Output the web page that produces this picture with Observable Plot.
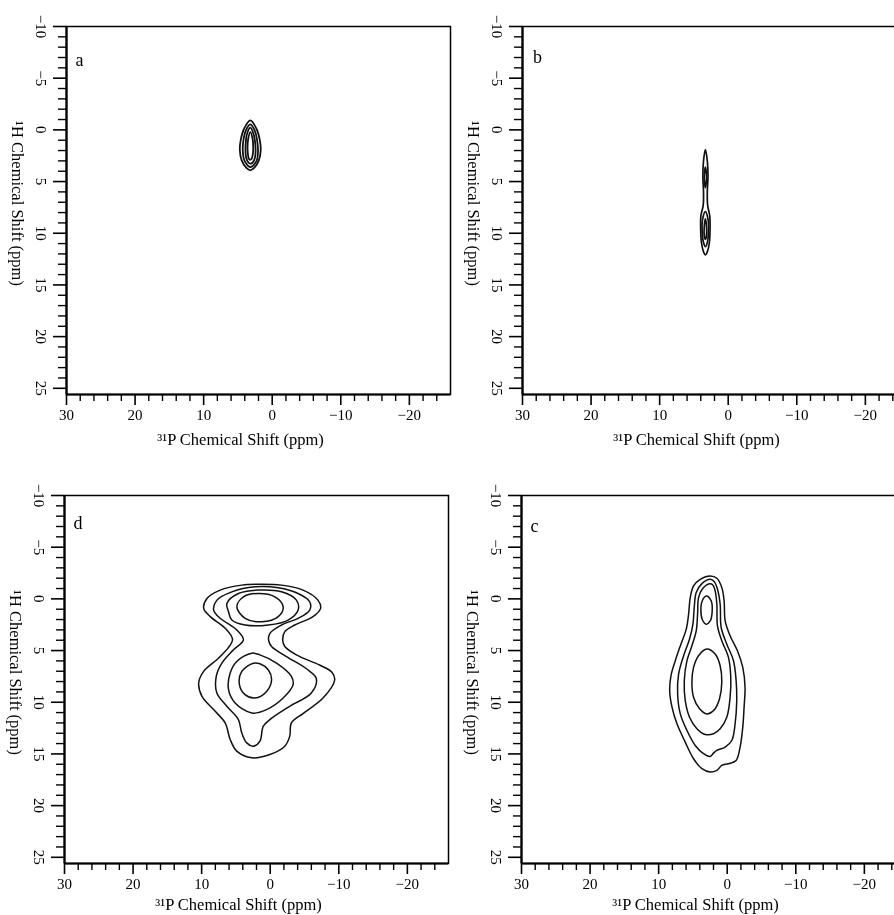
<!DOCTYPE html>
<html>
<head>
<meta charset="utf-8">
<script src="https://cdn.jsdelivr.net/npm/d3@7"></script>
<script src="https://cdn.jsdelivr.net/npm/@observablehq/plot@0.6"></script>
<style>
html, body { margin: 0; padding: 0; background: #fff; overflow: hidden; width: 894px; height: 915px; }
.panel { position: absolute; filter: grayscale(100%); }
</style>
</head>
<body>
<div id="pa" class="panel"></div>
<div id="pb" class="panel"></div>
<div id="pd" class="panel"></div>
<div id="pc" class="panel"></div>
<script>
// ---- axes / ticks ----
const xDomain = [30, -26];
const yDomain = [-10, 25.6];
const xMajorTicks = [30, 20, 10, 0, -10, -20];
const xMinorTicks = [28, 26, 24, 22, 18, 16, 14, 12, 8, 6, 4, 2, -2, -4, -6, -8, -12, -14, -16, -18, -22, -24];
const yMajorTicks = [-10, -5, 0, 5, 10, 15, 20, 25];
const yMinorTicks = [-9, -8, -7, -6, -4, -3, -2, -1, 1, 2, 3, 4, 6, 7, 8, 9, 11, 12, 13, 14, 16, 17, 18, 19, 21, 22, 23, 24];
const xTitle = "³¹P Chemical Shift (ppm)";
const yTitle = "¹H Chemical Shift (ppm)";
const panelLetters = ["a", "b", "d", "c"];

// ---- contour outlines (31P ppm, 1H ppm) ----
// panel a
const a1 = [[3.2,-0.91],[4.1,-0.11],[4.6,1.02],[4.72,1.98],[4.45,2.95],[3.8,3.66],[3.2,3.92],[2.6,3.66],[1.95,2.95],[1.68,1.98],[1.8,1.02],[2.3,-0.11]];
const a2 = [[3.2,-0.53],[3.88,0.12],[4.2,1.02],[4.3,1.98],[4.1,2.89],[3.6,3.43],[3.2,3.59],[2.72,3.43],[2.22,2.89],[2.07,1.98],[2.2,1.02],[2.52,0.12]];
const a3 = [[3.2,-0.21],[3.7,0.44],[3.85,1.18],[3.9,1.98],[3.8,2.69],[3.46,3.18],[3.2,3.27],[2.86,3.18],[2.52,2.69],[2.42,1.98],[2.5,1.18],[2.7,0.44]];
const a4 = [[3.2,0.21],[3.5,0.86],[3.6,1.66],[3.55,2.31],[3.41,2.79],[3.2,2.89],[3.0,2.79],[2.82,2.31],[2.77,1.66],[2.86,0.86]];

// panel b
const b1 = [[3.33,1.9],[3.6,3.0],[3.7,4.5],[3.6,6.0],[3.65,7.3],[3.98,8.3],[4.02,9.6],[3.9,10.9],[3.6,11.8],[3.33,12.1],[3.05,11.8],[2.75,10.9],[2.65,9.6],[2.7,8.3],[3.0,7.3],[3.05,6.0],[2.95,4.5],[3.05,3.0]];
const b2 = [[3.33,3.6],[3.5,4.6],[3.33,5.6],[3.16,4.6]];
const b3 = [[3.33,7.9],[3.75,8.7],[3.8,9.8],[3.6,10.9],[3.33,11.3],[3.05,10.9],[2.88,9.8],[2.93,8.7]];
const b4 = [[3.33,8.6],[3.5,9.4],[3.48,10.3],[3.33,10.6],[3.18,10.3],[3.16,9.4]];

// panel d
const d1 = [[5.5,3.97],[6.56,2.85],[8.74,1.72],[9.7,0.92],[9.22,-0.04],[7.29,-0.85],[4.15,-1.33],[1.25,-1.42],[-1.65,-1.33],[-4.79,-0.85],[-6.96,0.12],[-7.35,0.92],[-6.24,1.72],[-3.58,2.53],[-2.13,3.17],[-1.82,3.97],
            [-2.13,4.61],[-3.82,5.42],[-7.2,6.4],[-9.0,7.1],[-9.4,7.85],[-7.7,9.6],[-4.78,11.1],[-3.09,12.0],[-2.85,13.28],[-2.13,14.25],[0.05,15.05],[2.70,15.37],[4.88,14.73],[5.84,13.6],[6.57,12.0],[8.26,10.71],[9.95,9.43],[10.43,8.14],[9.71,7.02],[7.29,5.58]];
const d2 = [[3.91,3.97],[4.87,3.01],[7.29,1.88],[8.25,1.08],[7.77,0.12],[5.6,-0.68],[2.21,-1.17],[-1.17,-1.07],[-4.07,-0.52],[-5.76,0.28],[-5.76,1.08],[-4.07,1.88],[-1.65,2.53],[0.04,3.33],[0.24,3.97],
            [-0.2,4.61],[-2.37,5.58],[-5.27,6.76],[-6.72,7.7],[-5.99,9.11],[-2.85,10.39],[0.05,11.68],[1.01,12.32],[1.5,13.76],[2.46,14.25],[3.43,13.93],[4.15,12.96],[4.64,11.68],[6.33,10.39],[7.78,9.11],[7.87,7.5],[7.05,6.22],[5.36,4.93]];
const d3u = [[6.08,1.24],[6.32,0.44],[4.63,-0.52],[1.73,-0.85],[-1.65,-0.68],[-3.82,0.12],[-4.07,1.08],[-2.62,2.05],[0.28,2.53],[3.66,2.53],[5.6,2.05]];
const d4u = [[4.87,0.76],[3.91,-0.2],[1.73,-0.52],[-0.68,-0.2],[-1.89,0.76],[-1.17,1.72],[1.25,2.21],[3.66,1.88]];
const d3l = [[2.7,5.25],[4.88,6.06],[5.84,7.18],[6.08,8.79],[5.12,10.07],[2.7,11.04],[0.53,10.71],[-1.89,9.59],[-3.34,8.3],[-3.09,7.5],[-0.92,6.22],[1.5,5.42]];
const d4l = [[2.46,6.22],[4.15,7.02],[4.49,8.3],[3.67,9.27],[2.22,9.59],[0.53,8.95],[-0.2,7.82],[0.29,6.86],[1.5,6.28]];

// panel c
const c1 = [[2.48,-2.21],[3.94,-1.89],[4.91,-1.25],[5.39,-0.12],[5.63,1.48],[5.97,2.93],[6.75,4.38],[7.57,5.98],[8.20,7.43],[8.39,8.88],[8.05,10.48],[7.33,12.09],[6.12,13.86],[4.91,15.47],[3.69,16.43],[2.48,16.75],[1.51,16.59],[0.79,16.11],[-0.18,15.95],[-1.30,15.63],[-1.88,14.34],[-2.27,12.41],[-2.46,10.48],[-2.60,8.55],[-2.27,6.63],[-1.49,5.02],[-0.42,3.57],[0.30,2.13],[0.45,0.20],[0.79,-1.09],[1.51,-1.99]];
const c2 = [[2.48,-1.89],[3.69,-1.47],[4.52,-0.61],[4.81,0.84],[5.00,2.45],[5.49,3.89],[6.36,5.50],[7.09,7.27],[7.23,9.20],[6.84,11.13],[5.87,12.73],[4.66,14.18],[3.45,14.98],[2.48,15.24],[2.00,14.92],[1.51,14.66],[0.30,14.34],[-0.67,13.70],[-1.15,12.09],[-1.39,9.84],[-1.30,7.91],[-0.91,5.98],[0.06,4.38],[0.88,2.77],[1.03,0.52],[1.42,-0.93],[1.90,-1.67]];
const c3 = [[2.58,-1.47],[3.55,-1.02],[4.18,-0.12],[4.32,1.48],[4.52,3.09],[5.15,4.54],[5.87,5.98],[6.26,7.91],[6.12,9.84],[5.49,11.45],[4.42,12.57],[3.21,13.12],[2.00,13.05],[1.03,12.57],[0.06,11.45],[-0.42,9.52],[-0.52,7.59],[-0.18,5.66],[0.79,4.05],[1.42,2.61],[1.51,0.52],[1.76,-0.77],[2.09,-1.35]];
const c4a = [[3.06,-0.28],[3.65,0.20],[3.84,1.10],[3.65,1.97],[3.06,2.45],[2.48,2.13],[2.19,1.16],[2.34,0.20]];
const c4b = [[2.97,4.86],[4.18,5.50],[4.91,6.63],[5.15,8.07],[4.91,9.52],[4.03,10.64],[2.97,11.13],[1.90,10.74],[1.13,9.68],[0.79,8.07],[1.03,6.47],[1.76,5.34]];

// ---- drawing ----
const FONT = "'Liberation Serif', 'DejaVu Serif', 'Times New Roman', serif";
const ML = 70, MT = 20, MR = 10, MB = 60, PW = 384, PH = 368;
const fmt = d => d < 0 ? "\u2212" + Math.abs(d) : String(d);

function rowsOf(contours) {
  return contours.flatMap((pts, i) => pts.map(([x, y]) => ({x, y, id: i})));
}

function drawPanel(elId, letter, contours, fx, fy, lx, ly, lineWidth, titleDy) {
  const svg = Plot.plot({
    width: ML + PW + MR,
    height: MT + PH + MB,
    marginLeft: ML, marginTop: MT, marginRight: MR, marginBottom: MB,
    style: {fontFamily: FONT, fontSize: "15px", color: "#000", background: "transparent", overflow: "visible", maxWidth: "none"},
    x: {domain: xDomain, label: null},
    y: {domain: yDomain, reverse: true, label: null},
    marks: [
      Plot.axisX({ticks: xMinorTicks, tickSize: 7, tickFormat: () => "", label: null, strokeWidth: 1.4}),
      Plot.axisX({ticks: xMajorTicks, tickSize: 11, tickPadding: 4, tickFormat: fmt, label: null, strokeWidth: 1.6, fontSize: 15}),
      Plot.axisY({ticks: yMinorTicks, tickSize: 8, tickFormat: () => "", label: null, strokeWidth: 1.4}),
      Plot.axisY({ticks: yMajorTicks, tickSize: 13, tickFormat: () => "", label: null, strokeWidth: 1.6}),
      Plot.text(yMajorTicks, {y: d => d, text: fmt, frameAnchor: "left", dx: -26, rotate: 90, textAnchor: "middle", lineAnchor: "middle", fontSize: 15}),
      Plot.frame({strokeWidth: 1.5}),
      Plot.ruleX([xDomain[0]], {strokeWidth: 2.2}),
      Plot.ruleY([yDomain[1]], {strokeWidth: 2.2}),
      Plot.line(rowsOf(contours), {x: "x", y: "y", z: "id", curve: "catmull-rom-closed", stroke: "#111", strokeWidth: lineWidth}),
      Plot.text([letter], {frameAnchor: "top-left", dx: lx, dy: ly, textAnchor: "middle", lineAnchor: "middle", fontSize: 18}),
      Plot.text([xTitle], {frameAnchor: "bottom-left", dx: 174, dy: titleDy, textAnchor: "middle", lineAnchor: "middle", fontSize: 16.5}),
      Plot.text([yTitle], {frameAnchor: "left", dx: -49, dy: -7, rotate: 90, textAnchor: "middle", lineAnchor: "middle", fontSize: 16.5})
    ]
  });
  const el = document.getElementById(elId);
  el.style.left = (fx - ML) + "px";
  el.style.top = (fy - MT) + "px";
  el.style.width = (ML + PW + MR) + "px";
  el.appendChild(svg);
}

drawPanel("pa", panelLetters[0], [a1, a2, a3, a4], 66, 26, 13, 34, 1.8, 45);
drawPanel("pb", panelLetters[1], [b1, b2, b3, b4], 522, 26, 15, 31, 1.7, 45);
drawPanel("pd", panelLetters[2], [d1, d2, d3u, d4u, d3l, d4l], 63.5, 495, 13.5, 28, 1.5, 41);
drawPanel("pc", panelLetters[3], [c1, c2, c3, c4a, c4b], 521, 494.5, 13, 31, 1.5, 41);
</script>
</body>
</html>
